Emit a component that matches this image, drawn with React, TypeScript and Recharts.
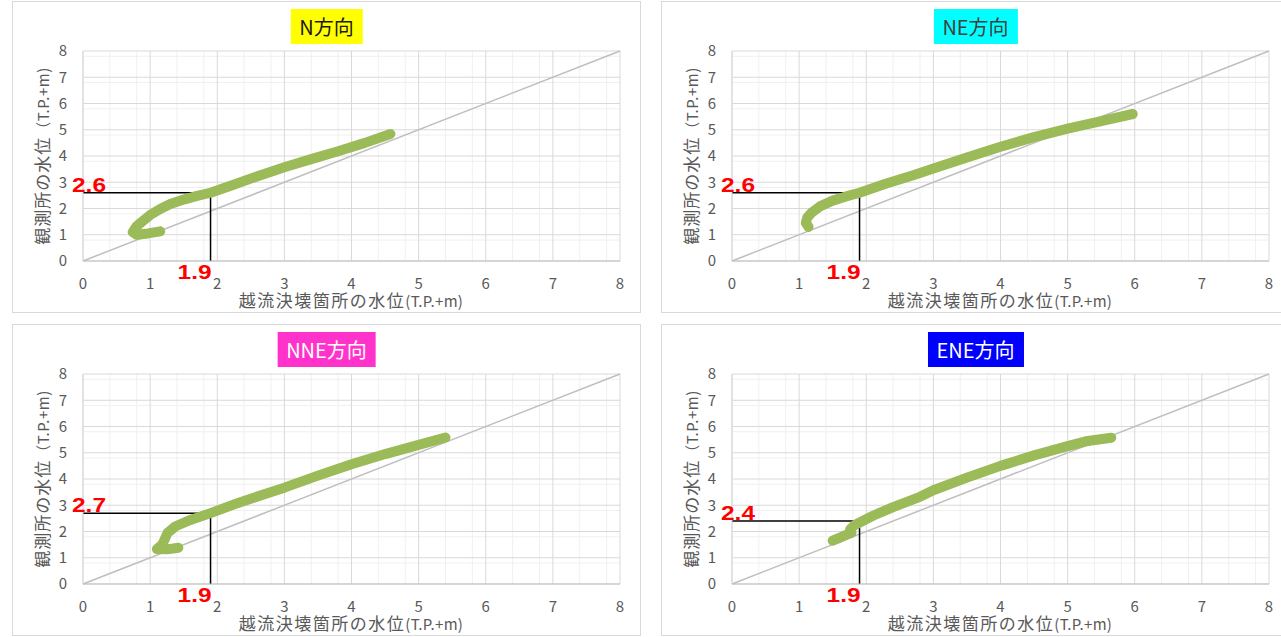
import { CartesianGrid, ComposedChart, Line, ReferenceLine, Scatter, XAxis, YAxis } from "recharts";

const FONT = '"Noto Sans CJK JP", "Noto Sans", sans-serif';

// 軸目盛
const xTicks = [0, 1, 2, 3, 4, 5, 6, 7, 8];
const yTicks = [0, 1, 2, 3, 4, 5, 6, 7, 8];

// 各方向の水位関係（越流決壊箇所 x, 観測所 y）
const curveN = [
  { x: 1.15, y: 1.13 }, { x: 0.97, y: 1.05 }, { x: 0.8, y: 1.0 }, { x: 0.74, y: 1.1 }, { x: 0.79, y: 1.3 },
  { x: 0.88, y: 1.5 }, { x: 1.0, y: 1.75 }, { x: 1.15, y: 1.98 }, { x: 1.3, y: 2.17 }, { x: 1.5, y: 2.34 },
  { x: 1.7, y: 2.48 }, { x: 1.9, y: 2.6 }, { x: 2.2, y: 2.87 }, { x: 2.6, y: 3.23 }, { x: 3.0, y: 3.57 },
  { x: 3.4, y: 3.88 }, { x: 3.8, y: 4.18 }, { x: 4.2, y: 4.5 }, { x: 4.58, y: 4.84 },
];
const curveNE = [
  { x: 1.14, y: 1.3 }, { x: 1.1, y: 1.45 }, { x: 1.12, y: 1.65 }, { x: 1.19, y: 1.85 }, { x: 1.31, y: 2.08 },
  { x: 1.5, y: 2.3 }, { x: 1.7, y: 2.46 }, { x: 1.9, y: 2.6 }, { x: 2.3, y: 2.95 }, { x: 2.7, y: 3.27 },
  { x: 3.0, y: 3.52 }, { x: 3.5, y: 3.94 }, { x: 4.0, y: 4.35 }, { x: 4.5, y: 4.72 }, { x: 5.0, y: 5.04 },
  { x: 5.5, y: 5.33 }, { x: 5.97, y: 5.6 },
];
const curveNNE = [
  { x: 1.42, y: 1.38 }, { x: 1.25, y: 1.32 }, { x: 1.1, y: 1.33 }, { x: 1.18, y: 1.5 }, { x: 1.22, y: 1.72 },
  { x: 1.26, y: 1.95 }, { x: 1.38, y: 2.2 }, { x: 1.6, y: 2.44 }, { x: 1.9, y: 2.7 }, { x: 2.3, y: 3.08 },
  { x: 2.7, y: 3.42 }, { x: 3.0, y: 3.67 }, { x: 3.5, y: 4.13 }, { x: 4.0, y: 4.56 }, { x: 4.5, y: 4.95 },
  { x: 5.0, y: 5.3 }, { x: 5.4, y: 5.58 },
];
const curveENE = [
  { x: 1.5, y: 1.65 }, { x: 1.6, y: 1.76 }, { x: 1.7, y: 1.87 }, { x: 1.78, y: 1.95 }, { x: 1.76, y: 2.08 },
  { x: 1.83, y: 2.25 }, { x: 1.96, y: 2.42 }, { x: 2.1, y: 2.6 }, { x: 2.4, y: 2.93 }, { x: 2.8, y: 3.32 },
  { x: 3.0, y: 3.57 }, { x: 3.5, y: 4.05 }, { x: 4.0, y: 4.5 }, { x: 4.5, y: 4.9 }, { x: 5.0, y: 5.25 },
  { x: 5.3, y: 5.45 }, { x: 5.65, y: 5.57 },
];

// 読み取り値（越流決壊箇所 1.9 のときの観測所水位）
const readX = [1.9, 1.9, 1.9, 1.9];
const readY = [2.6, 2.6, 2.7, 2.4];

const titles = ["N方向", "NE方向", "NNE方向", "ENE方向"];

// 補助目盛 0.2 間隔
const minorTicks: number[] = [];
for (let i = 1; i < 40; i++) if (i % 5 !== 0) minorTicks.push(i / 5);

const panels = [
  { title: titles[0], bg: "#ffff00", color: "#1a1a1a", data: curveN, rx: readX[0], ry: readY[0], left: 12, top: 1 },
  { title: titles[1], bg: "#00ffff", color: "#404040", data: curveNE, rx: readX[1], ry: readY[1], left: 661, top: 1 },
  { title: titles[2], bg: "#ff33cc", color: "#ffffff", data: curveNNE, rx: readX[2], ry: readY[2], left: 12, top: 324 },
  { title: titles[3], bg: "#0000ff", color: "#ffffff", data: curveENE, rx: readX[3], ry: readY[3], left: 661, top: 324 },
];

function RedText({ cx, cy, payload }: any) {
  const isY = payload.kind === "y";
  return (
    <text
      x={isY ? cx - 11 : cx + 1}
      y={isY ? cy - 1 : cy + 18}
      textAnchor={isY ? "start" : "end"}
      fill="#ff0000"
      fontSize={21}
      fontWeight="bold"
      fontFamily='"Liberation Sans", Arial, sans-serif'
      textLength={34}
      lengthAdjust="spacingAndGlyphs"
    >
      {payload.text}
    </text>
  );
}

function Panel({ p }: { p: (typeof panels)[number] }) {
  const marks = [
    { x: 0, y: p.ry, kind: "y", text: p.ry.toFixed(1) },
    { x: p.rx, y: 0, kind: "x", text: p.rx.toFixed(1) },
  ];
  const tick = { fill: "#595959", fontSize: 15, fontFamily: FONT };
  return (
    <div style={{ position: "absolute", left: p.left, top: p.top, width: 629, height: 312, border: "1px solid #d9d9d9", boxSizing: "border-box", background: "#fff" }}>
      <ComposedChart width={627} height={310} margin={{ top: 49, right: 20, bottom: 0, left: 0 }}>
        <CartesianGrid horizontalValues={minorTicks} verticalValues={minorTicks} stroke="#f0f0f0" />
        <CartesianGrid horizontalValues={yTicks} verticalValues={xTicks} stroke="#d9d9d9" />
        <XAxis dataKey="x" type="number" domain={[0, 8]} ticks={xTicks} axisLine={{ stroke: "#bfbfbf" }} tickLine={false} tickSize={0} tickMargin={17} tick={tick} height={51} />
        <YAxis dataKey="y" type="number" domain={[0, 8]} ticks={yTicks} axisLine={{ stroke: "#d9d9d9" }} tickLine={false} tickSize={0} tickMargin={16} tick={tick} width={70} />
        <ReferenceLine segment={[{ x: 0, y: 0 }, { x: 8, y: 8 }]} stroke="#bfbfbf" strokeWidth={1.5} />
        <ReferenceLine segment={[{ x: 0, y: p.ry }, { x: p.rx, y: p.ry }]} stroke="#000" strokeWidth={1.5} ifOverflow="visible" />
        <ReferenceLine segment={[{ x: p.rx, y: p.ry }, { x: p.rx, y: 0 }]} stroke="#000" strokeWidth={1.5} ifOverflow="visible" />
        <Line data={p.data} dataKey="y" type="linear" stroke="#9bbb59" strokeWidth={10} strokeLinecap="round" strokeLinejoin="round" dot={false} activeDot={false} isAnimationActive={false} />
        <Scatter data={marks} shape={RedText} isAnimationActive={false} />
      </ComposedChart>
      <div style={{ position: "absolute", top: 7, left: "50%", transform: "translateX(-50%)", background: p.bg, color: p.color, fontFamily: FONT, fontSize: 20, lineHeight: "35px", height: 35, padding: "0 9px", whiteSpace: "nowrap" }}>
        {p.title}
      </div>
      <div style={{ position: "absolute", left: 29, top: 154, transform: "translate(-50%, -50%) rotate(-90deg)", color: "#595959", fontFamily: FONT, fontSize: 17, letterSpacing: 1, whiteSpace: "nowrap", lineHeight: "17px" }}>
        観測所の水位<span style={{ fontSize: 15, letterSpacing: 0.5 }}>（T.P.+m)</span>
      </div>
      <div style={{ position: "absolute", left: 338, top: 298, transform: "translate(-50%, -50%)", color: "#595959", fontFamily: FONT, fontSize: 17, letterSpacing: 1.5, whiteSpace: "nowrap", lineHeight: "16px" }}>
        越流決壊箇所の水位<span style={{ fontSize: 15, letterSpacing: 0.3 }}>(T.P.+m)</span>
      </div>
    </div>
  );
}

export default function App() {
  return (
    <div style={{ position: "absolute", left: 0, top: 0, width: 1281, height: 637, overflow: "hidden", background: "#fff" }}>
      {panels.map((p) => (
        <Panel key={p.title} p={p} />
      ))}
    </div>
  );
}
